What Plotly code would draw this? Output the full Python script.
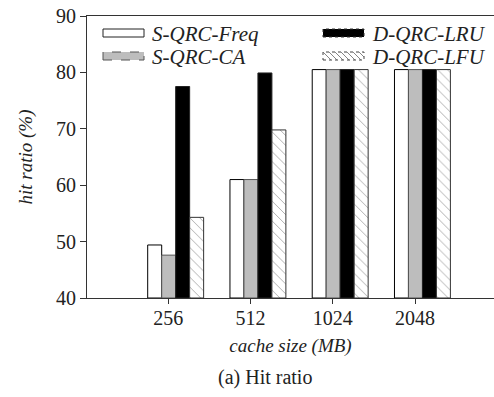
import plotly.graph_objects as go

categories = ["256", "512", "1024", "2048"]
series_names = ["S-QRC-Freq", "S-QRC-CA", "D-QRC-LRU", "D-QRC-LFU"]
freq = [49.4, 61.0, 80.5, 80.5]
ca = [47.6, 61.0, 80.5, 80.5]
lru = [77.5, 79.9, 80.5, 80.5]
lfu = [54.3, 69.8, 80.5, 80.5]
y_ticks = [40, 50, 60, 70, 80, 90]

values = [freq, ca, lru, lfu]
offsets = [-0.25, -0.08, 0.09, 0.26]
styles = [
    dict(color="white", line=dict(color="black", width=1)),
    dict(color="#bdbdbd", line=dict(color="#555555", width=1)),
    dict(color="black", line=dict(color="#222222", width=1)),
    dict(color="white", line=dict(color="#333333", width=1),
         pattern=dict(shape="\\", fgcolor="#444444", bgcolor="white", size=7, solidity=0.12)),
]

xpos = list(range(len(categories)))
fig = go.Figure()
for name, vals, off, st in zip(series_names, values, offsets, styles):
    fig.add_trace(go.Bar(
        x=xpos, y=[v - 40 for v in vals], base=40, name=name,
        offset=off, width=0.17, marker=st, showlegend=False,
    ))

# Plot area geometry in pixels (for placing the hand-made legend)
W, H = 494, 397
ML, MR, MT, MB = 87, 0, 16, 99
PW, PH = W - ML - MR, H - MT - MB


def px_x(p):
    return (p - ML) / PW


def px_y(p):
    return (H - MB - p) / PH


font_family = "Liberation Serif"
shapes = []
annotations = []
# legend: (name, column, row, fill, line color, dash)
legend_items = [
    (series_names[0], 0, 0, "white", "#222222", "solid"),
    (series_names[1], 0, 1, "#bdbdbd", "#555555", "dash"),
    (series_names[2], 1, 0, "black", "#333333", "dot"),
    (series_names[3], 1, 1, "white", "#444444", "dot"),
]
col_x = [103, 323]
row_y = [33, 56]
sw_w, sw_h = 41, 8
for name, c, r, fill, lc, dash in legend_items:
    x0, x1 = col_x[c], col_x[c] + sw_w
    y0, y1 = row_y[r] - sw_h / 2, row_y[r] + sw_h / 2
    shapes.append(dict(type="rect", xref="paper", yref="paper",
                       x0=px_x(x0), x1=px_x(x1), y0=px_y(y1), y1=px_y(y0),
                       fillcolor=fill, line=dict(color=lc, width=1, dash=dash)))
    if name == "D-QRC-LFU":
        for k in range(0, sw_w, 6):
            xa = x0 + k
            xb = min(x0 + k + sw_h, x1)
            ya = y0
            yb = y0 + (xb - xa)
            shapes.append(dict(type="line", xref="paper", yref="paper",
                               x0=px_x(xa), x1=px_x(xb), y0=px_y(ya), y1=px_y(yb),
                               line=dict(color="#666666", width=0.8)))
    annotations.append(dict(text=name, xref="paper", yref="paper",
                            x=px_x(x1 + 6), y=px_y(row_y[r] + 1),
                            xanchor="left", yanchor="middle", showarrow=False,
                            font=dict(family=font_family, size=21, style="italic", color="#222222")))

annotations.append(dict(
    text="(a) Hit ratio", xref="paper", yref="paper", x=px_x(265), y=px_y(377),
    xanchor="center", yanchor="middle", showarrow=False,
    font=dict(family=font_family, size=20, color="#222222"),
))

fig.update_layout(
    width=W, height=H,
    margin=dict(l=ML, r=MR, t=MT, b=MB),
    paper_bgcolor="white", plot_bgcolor="white",
    font=dict(family=font_family, size=20, color="#222222"),
    barmode="overlay",
    showlegend=False,
    xaxis=dict(
        range=[-0.988, 3.96], tickvals=xpos, ticktext=categories,
        showline=True, linecolor="#333333", linewidth=1, mirror=True,
        ticks="outside", ticklen=5, tickcolor="#333333",
        showgrid=False, zeroline=False,
        tickfont=dict(size=20), ticklabelstandoff=-3,
        title=dict(text="cache size (MB)", font=dict(size=19, style="italic"), standoff=10),
    ),
    yaxis=dict(
        range=[40, 90], tickvals=y_ticks,
        showline=True, linecolor="#333333", linewidth=1,
        ticks="outside", ticklen=6, tickcolor="#333333",
        showgrid=False, zeroline=False,
        tickfont=dict(size=20),
        title=dict(text="hit ratio (%)", font=dict(size=19, style="italic"), standoff=18),
    ),
    shapes=shapes,
    annotations=annotations,
)

fig.write_html("out.html")
